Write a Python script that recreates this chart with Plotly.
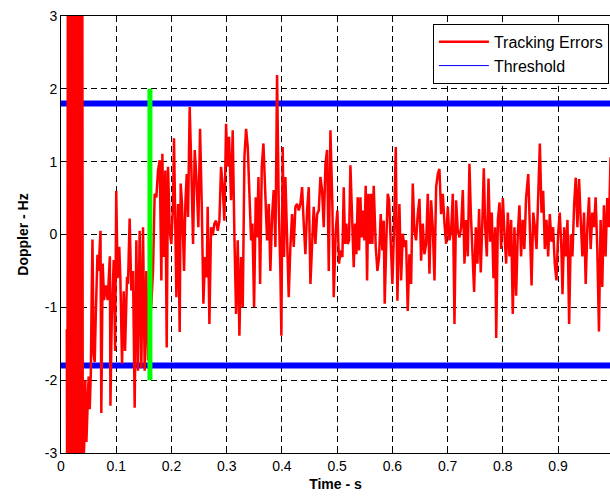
import plotly.graph_objects as go

# ---- data ----
time_s = [
    0.0105, 0.0115, 0.0125, 0.0135, 0.0145, 0.0155, 0.0165, 0.0175, 0.0185, 0.0195,
    0.0205, 0.0215, 0.0225, 0.0235, 0.0245, 0.0255, 0.0265, 0.0275, 0.0285, 0.0295,
    0.0305, 0.0315, 0.0325, 0.0335, 0.0345, 0.0355, 0.0365, 0.0375, 0.0385, 0.0395,
    0.040, 0.042, 0.044, 0.046, 0.048, 0.050, 0.052, 0.054, 0.0555, 0.057,
    0.059, 0.061, 0.063, 0.066, 0.068, 0.0715, 0.073, 0.0755, 0.078, 0.081,
    0.0845, 0.0885, 0.0895, 0.092, 0.0955, 0.098, 0.100, 0.1025, 0.1055, 0.1075,
    0.1105, 0.1135, 0.116, 0.1195,
    0.1213, 0.1243, 0.1273, 0.1304, 0.1334, 0.1364, 0.1394, 0.1424, 0.1455, 0.1485,
    0.1515, 0.1545, 0.1575, 0.1606, 0.1636, 0.1666, 0.1696, 0.1726, 0.1757, 0.1787,
    0.1817, 0.1835, 0.1865, 0.1889, 0.1914, 0.1938, 0.1968, 0.1998, 0.2028, 0.2046,
    0.2089, 0.2119, 0.2149, 0.2167, 0.2191, 0.2228, 0.2252, 0.2276, 0.2300, 0.2330,
    0.2361, 0.2391, 0.2421, 0.2451,
    0.2487, 0.2518, 0.2548, 0.2578, 0.2608, 0.2638, 0.2656, 0.2687, 0.2717, 0.2747,
    0.2777, 0.2807, 0.2838, 0.2868, 0.2898, 0.2928, 0.2958, 0.2989, 0.3013, 0.3043,
    0.3079, 0.3109, 0.3140, 0.3170, 0.3200, 0.3230, 0.3260, 0.3291, 0.3321, 0.3351,
    0.3381, 0.3411, 0.3442, 0.3466, 0.3496, 0.3526, 0.3550, 0.3575, 0.3605, 0.3635,
    0.3665,
    0.3731, 0.3761, 0.3791, 0.3821, 0.3851, 0.3882, 0.3912, 0.3942, 0.3972, 0.3990,
    0.4014, 0.4039, 0.4063, 0.4093, 0.4123, 0.4153, 0.4184, 0.4214, 0.4244, 0.4274,
    0.4304, 0.4335, 0.4365, 0.4395, 0.4425, 0.4455, 0.4486, 0.4516, 0.4546, 0.4576,
    0.4606, 0.4637, 0.4667, 0.4697, 0.4727, 0.4757, 0.4788, 0.4818, 0.4848, 0.4878,
    0.4913, 0.4938, 0.4974, 0.5004, 0.5034, 0.5064, 0.5095, 0.5119, 0.5143, 0.5167,
    0.5191, 0.5215, 0.5240, 0.5276, 0.5300, 0.5324, 0.5348, 0.5372, 0.5397, 0.5421,
    0.5445, 0.5469, 0.5493, 0.5517, 0.5542, 0.5566, 0.5590, 0.5614, 0.5638, 0.5662,
    0.5699, 0.5729, 0.5759, 0.5789, 0.5819, 0.5843, 0.5861, 0.5892, 0.5916, 0.5940,
    0.5970, 0.6000, 0.6031, 0.6061, 0.6091,
    0.6127, 0.6158, 0.6188, 0.6218, 0.6248, 0.6278, 0.6309, 0.6339, 0.6369, 0.6399,
    0.6429, 0.6460, 0.6490, 0.6520, 0.6550, 0.6580, 0.6611, 0.6641, 0.6671, 0.6701,
    0.6731, 0.6762, 0.6792, 0.6822, 0.6852, 0.6882, 0.6913, 0.6943, 0.6973, 0.7003,
    0.7033, 0.7064, 0.7094, 0.7124, 0.7154, 0.7184, 0.7215, 0.7245, 0.7275, 0.7305,
    0.7335, 0.7365, 0.7395, 0.742, 0.745, 0.748, 0.751, 0.754, 0.757, 0.760,
    0.763, 0.7655, 0.768, 0.771, 0.774, 0.777, 0.780, 0.783, 0.786, 0.788,
    0.791, 0.794, 0.797, 0.800, 0.803, 0.806, 0.809, 0.812, 0.815, 0.818,
    0.821, 0.824, 0.827, 0.830, 0.833, 0.836, 0.839, 0.842, 0.846, 0.849,
    0.852, 0.855, 0.858, 0.861, 0.864, 0.867, 0.870, 0.873, 0.876, 0.879,
    0.882, 0.885, 0.888, 0.891, 0.894, 0.897, 0.900, 0.903, 0.906, 0.908,
    0.911, 0.914, 0.917, 0.920, 0.923, 0.926, 0.929, 0.932, 0.935, 0.938,
    0.941, 0.944, 0.947, 0.950, 0.953, 0.956, 0.959, 0.962, 0.965, 0.968,
    0.971, 0.974, 0.977, 0.980, 0.983, 0.986, 0.989, 0.992, 0.995,
]

doppler_hz = [
    -1.3, -5.0, 5.0, -5.5, 6.0, -6.0, 5.0, -5.0, 6.0, -4.0,
    5.0, -5.0, 6.0, -5.0, 5.0, -4.5, 5.5, -5.0, 6.0, -4.0,
    5.0, -5.5, 6.0, -5.0, 5.0, -4.5, 5.0, -4.0, 4.5, -4.0,
    -3.2, -2.9, -2.0, -2.85, -2.3, -1.95, -2.4, -1.9, -0.85, -0.07,
    -1.65, -1.75, -1.1, -0.28, -0.5, 0.05, -2.45, -0.4, -0.9, -0.7,
    -0.9, -0.3, -2.35, -1.1, -0.35, -1.6, 0.6, -0.6, -0.17, -0.6,
    -1.77, -0.78, -1.6, -0.58,
    -0.68, 0.22, -0.77, -0.5, -2.38, -0.08, -1.87, 0.05, -1.83, 0.1,
    -1.87, -0.5, -1.73, -1.2, -0.95, -0.5, 0.56, 0.51, 0.88, 1.02,
    -0.63, 1.11, -0.31, 0.88, -1.55, 0.93, 0.05, -0.13, 0.42, 1.32,
    -0.86, 0.42, -1.34, 0.7, 0.42, -0.5, 0.42, 0.83, 0.24, 1.75,
    0.88, -0.13, 1.16, 0.79,
    0.1, 1.45, 0.42, -0.95, -0.31, -0.59, 0.38, -1.23, 0.1, -0.01,
    0.15, 0.19, 0.05, 0.19, 0.93, 0.65, 0.19, 1.52, 0.93, 1.34,
    0.47, 1.43, -0.04, -1.09, -0.08, -1.39, -0.31, -1.0, 1.06, 1.45,
    1.2, 0.42, -0.08, 0.15, -1.0, 0.51, -0.04, 0.79, -0.68, 0.93,
    1.25,
    -0.08, 0.42, -0.5, 0.24, 0.61, -0.17, 2.19, 0.42, -0.5, -1.39,
    1.2, -0.31, 0.79, -0.04, -0.86, -0.17, 0.28, -0.17, 0.38, 0.42,
    0.33, 0.42, 0.65, 0.15, -0.27, 0.33, 0.65, -0.68, -0.13, 0.38,
    -0.13, 0.28, 0.33, 0.79, 0.61, 0.1, 0.97, 1.16, -0.5, 1.43,
    0.42, -0.86, 0.05, 0.33, -0.4, -0.22, -0.31, 0.65, -0.13, 0.15,
    -0.13, -0.08, 0.95, 0.24, -0.45, 0.15, -0.27, 0.51, -0.22, 0.51,
    -0.04, 0.33, -0.08, 0.67, -0.63, 0.56, -0.13, 0.56, -0.13, 0.67,
    -0.17, -0.5, -0.31, 0.28, -0.22, 0.19, -0.95, -0.04, 0.56, 0.47,
    -0.22, -0.68, 0.1, 1.2, -0.91,
    0.42, -0.63, 0.01, -0.17, -0.08, -1.05, -0.27, -0.68, 0.7, 0.05,
    -0.08, 0.28, 0.49, -0.36, 0.15, -0.27, -0.13, 0.56, -0.54, 0.47,
    0.1, -0.63, 0.65, 0.83, 0.9, 0.28, 0.56, 0.15, -0.13, 0.38,
    -0.08, 0.05, 0.56, -1.23, 0.47, 0.05, -0.04, 0.1, 0.61, -0.4,
    0.2, -0.3, 0.97, 0.3, -0.2, -0.79, 0.1, -0.4, 0.35, -0.52,
    0.2, 0.91, 0.1, -0.3, 0.77, -0.1, 0.3, -0.6, 0.1, -1.42,
    0.2, 0.44, -0.2, 0.5, 0.0, -0.4, 0.3, -0.3, 0.2, -1.09,
    0.1, -0.84, 0.0, 0.4, -0.3, 0.2, -0.2, 0.5, 0.83, -0.1,
    -0.7, 0.3, 0.1, -0.2, 0.4, 1.25, 0.3, 0.6, -0.2, 0.2,
    -0.3, 0.28, -0.1, 0.1, -0.4, -0.63, 0.0, 0.3, -0.2, -0.82,
    0.1, -0.3, 0.2, -1.23, 0.0, -0.3, 0.4, 0.78, 0.1, 0.76,
    0.2, -0.3, 0.3, -0.68, 0.1, 0.51, -0.2, 0.3, 0.1, 0.51,
    -0.2, -1.33, 0.2, -0.72, 0.4, -0.3, 0.5, 0.1, 1.06,
]

threshold_hz = 1.8
detect_time_s = 0.161
detect_span_hz = [-2.0, 2.0]
x_range = [0, 0.994]
y_range = [-3, 3]
x_ticks = [0, 0.1, 0.2, 0.3, 0.4, 0.5, 0.6, 0.7, 0.8, 0.9]
x_tick_labels = ["0", "0.1", "0.2", "0.3", "0.4", "0.5", "0.6", "0.7", "0.8", "0.9"]
y_ticks = [-3, -2, -1, 0, 1, 2, 3]
y_tick_labels = ["-3", "-2", "-1", "0", "1", "2", "3"]

FONT = "Liberation Sans, Arial, sans-serif"

fig = go.Figure()

# threshold lines (thick, drawn beneath the red trace)
for sgn in (1, -1):
    fig.add_trace(go.Scatter(
        x=x_range, y=[sgn * threshold_hz] * 2, mode="lines",
        line=dict(color="#0000FF", width=6), showlegend=False, hoverinfo="skip"))

fig.add_trace(go.Scatter(
    x=time_s, y=doppler_hz, mode="lines", name="Tracking Errors",
    line=dict(color="#FF0000", width=2.5), legendrank=1))

# detection marker
fig.add_trace(go.Scatter(
    x=[detect_time_s, detect_time_s], y=detect_span_hz, mode="lines",
    line=dict(color="#00FF00", width=5), showlegend=False, hoverinfo="skip"))

# legend entry for threshold (thin sample as in reference)
fig.add_trace(go.Scatter(
    x=[None], y=[None], mode="lines", name="Threshold",
    line=dict(color="#0000FF", width=1), legendrank=2))

axis_common = dict(
    showline=True, linecolor="black", linewidth=1, mirror=True,
    ticks="inside", ticklen=5, tickcolor="black",
    showgrid=True, gridcolor="black", gridwidth=1, griddash="6px,4px",
    zeroline=False, tickfont=dict(family=FONT, size=14, color="black"),
)

fig.update_xaxes(
    range=x_range, tickvals=x_ticks, ticktext=x_tick_labels,
    title=dict(text="<b>Time - s</b>", font=dict(family=FONT, size=14, color="black"), standoff=6),
    **axis_common)
fig.update_yaxes(
    range=y_range, tickvals=y_ticks, ticktext=y_tick_labels,
    title=dict(text="<b>Doppler - Hz</b>", font=dict(family=FONT, size=14, color="black"), standoff=12),
    **axis_common)

fig.update_layout(
    width=610, height=497,
    margin=dict(l=61, r=0, t=16, b=44),
    paper_bgcolor="white", plot_bgcolor="white",
    font=dict(family=FONT, size=14, color="black"),
    legend=dict(
        x=0.998, y=0.982, xanchor="right", yanchor="top",
        bgcolor="white", bordercolor="black", borderwidth=1,
        font=dict(family=FONT, size=16, color="black"),
        tracegroupgap=0, itemwidth=50,
    ),
    showlegend=True,
)

fig.write_html("out.html")
